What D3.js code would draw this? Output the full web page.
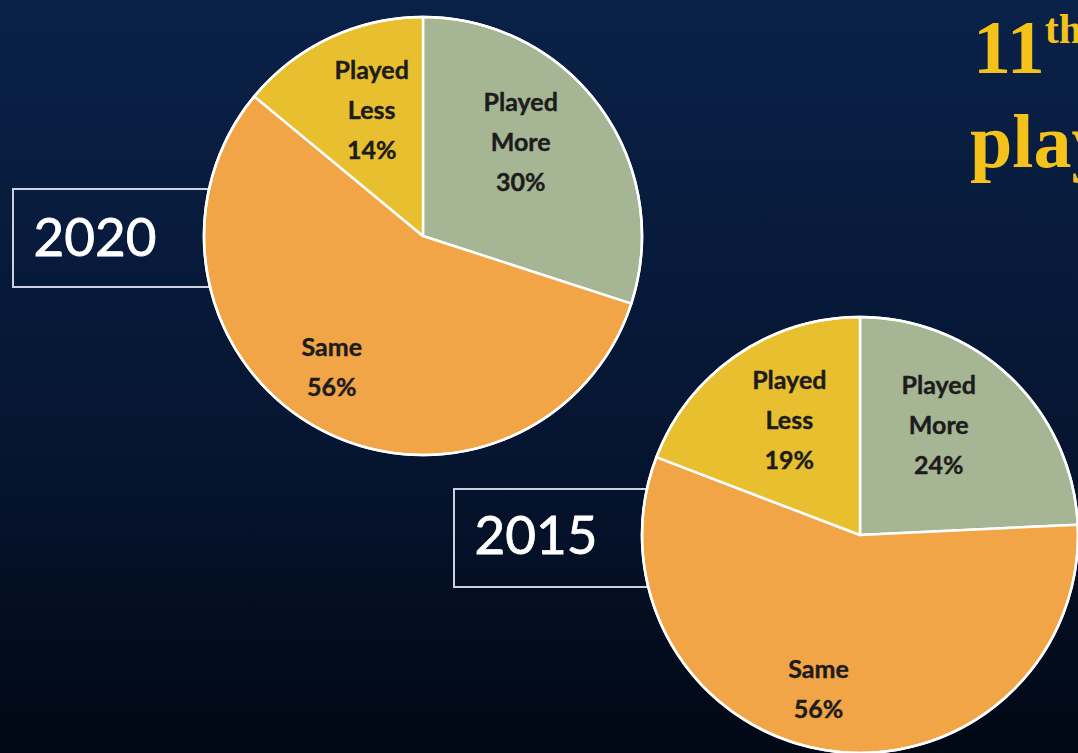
<!DOCTYPE html>
<html>
<head>
<meta charset="utf-8">
<script src="https://cdn.jsdelivr.net/npm/d3@7/dist/d3.min.js"></script>
<style>
  html, body { margin: 0; padding: 0; background: #020a17; }
  svg { display: block; }
</style>
</head>
<body>
<script>
// Survey: change in how much students played, two survey years
const categories = ["Played More", "Same", "Played Less"];
const labelLines = [["Played", "More"], ["Same"], ["Played", "Less"]];
const years = ["2020", "2015"];
const values2020 = [30, 56, 14];
const values2015 = [24, 56, 19];

const W = 1078, H = 753;
const svg = d3.select("body").append("svg").attr("width", W).attr("height", H);

// background gradient
const defs = svg.append("defs");
const bg = defs.append("linearGradient").attr("id", "bg")
  .attr("x1", 0).attr("y1", 0).attr("x2", 0).attr("y2", 1);
bg.append("stop").attr("offset", "0%").attr("stop-color", "#0a2148");
bg.append("stop").attr("offset", "55%").attr("stop-color", "#061633");
bg.append("stop").attr("offset", "100%").attr("stop-color", "#010814");
svg.append("rect").attr("width", W).attr("height", H).attr("fill", "url(#bg)");

const color = d3.scaleOrdinal().domain(categories)
  .range(["#a6b593", "#f2a547", "#e8bf2f"]);

// title, running off the right edge of the slide
const title = svg.append("text")
  .attr("font-family", "'Liberation Serif', 'Times New Roman', serif")
  .attr("font-weight", "bold").attr("fill", "#f4c21a");
const t1 = title.append("tspan").attr("x", 973).attr("y", 73).attr("font-size", 76);
t1.append("tspan").text("11");
t1.append("tspan").attr("font-size", 42).attr("dy", -30).text("th");
t1.append("tspan").attr("dy", 30).text(" Grade");
title.append("tspan").attr("x", 970).attr("y", 167).attr("font-size", 76).text("play time");

const pie = d3.pie().sort(null).value(d => d);

const charts = [
  { year: years[0], values: values2020, cx: 423, cy: 236, r: 219,
    box: { x: 13, y: 189, h: 98 }, yearX: 95, yearY: 256 },
  { year: years[1], values: values2015, cx: 860, cy: 535, r: 218,
    box: { x: 454, y: 489, h: 98 }, yearX: 536, yearY: 554 }
];

// where each slice's label sits: fraction of radius and angle nudge (deg)
const labelPlacement = {
  "Played More": { k: 0.62, da: -8 },
  "Same": { k: 0.73, da: 6 },
  "Played Less": { k: 0.62, da: 3 }
};

charts.forEach(c => {
  // year box behind the pie
  svg.append("rect")
    .attr("x", c.box.x).attr("y", c.box.y)
    .attr("width", c.cx - c.box.x).attr("height", c.box.h)
    .attr("fill", "none").attr("stroke", "#c9d2de").attr("stroke-width", 2);
  svg.append("text")
    .attr("x", c.yearX).attr("y", c.yearY)
    .attr("text-anchor", "middle")
    .attr("font-family", "Lato, 'Open Sans', sans-serif")
    .attr("font-size", 53).attr("fill", "#ffffff")
    .attr("stroke", "#ffffff").attr("stroke-width", 0.8)
    .text(c.year);

  const g = svg.append("g").attr("transform", `translate(${c.cx},${c.cy})`);
  const arcs = pie(c.values).map((a, i) => ({ ...a, cat: categories[i], lines: labelLines[i] }));
  const arc = d3.arc().innerRadius(0).outerRadius(c.r);

  g.selectAll("path.slice").data(arcs).join("path")
    .attr("class", "slice")
    .attr("d", arc)
    .attr("fill", d => color(d.cat))
    .attr("stroke", "#ffffff").attr("stroke-width", 2.5)
    .attr("stroke-linejoin", "round");

  g.append("circle").attr("r", c.r).attr("fill", "none")
    .attr("stroke", "#ffffff").attr("stroke-width", 2.5);

  const lbl = g.selectAll("text.lbl").data(arcs).join("text")
    .attr("class", "lbl")
    .attr("text-anchor", "middle")
    .attr("font-family", "Lato, 'Open Sans', sans-serif")
    .attr("font-weight", "bold").attr("font-size", 25)
    .attr("fill", "#1c1c1c")
    .attr("stroke", "#1c1c1c").attr("stroke-width", 0.4)
    .attr("transform", d => {
      const p = labelPlacement[d.cat];
      const ang = (d.startAngle + d.endAngle) / 2 + p.da * Math.PI / 180;
      const rr = c.r * p.k;
      return `translate(${rr * Math.sin(ang)},${-rr * Math.cos(ang)})`;
    });
  lbl.each(function(d) {
    const lines = d.lines.concat([d.value + "%"]);
    const t = d3.select(this);
    const lh = 40;
    const y0 = -((lines.length - 1) * lh) / 2 + 9;
    lines.forEach((s, i) => {
      t.append("tspan").attr("x", 0).attr("y", y0 + i * lh).text(s);
    });
  });
});
</script>
</body>
</html>
